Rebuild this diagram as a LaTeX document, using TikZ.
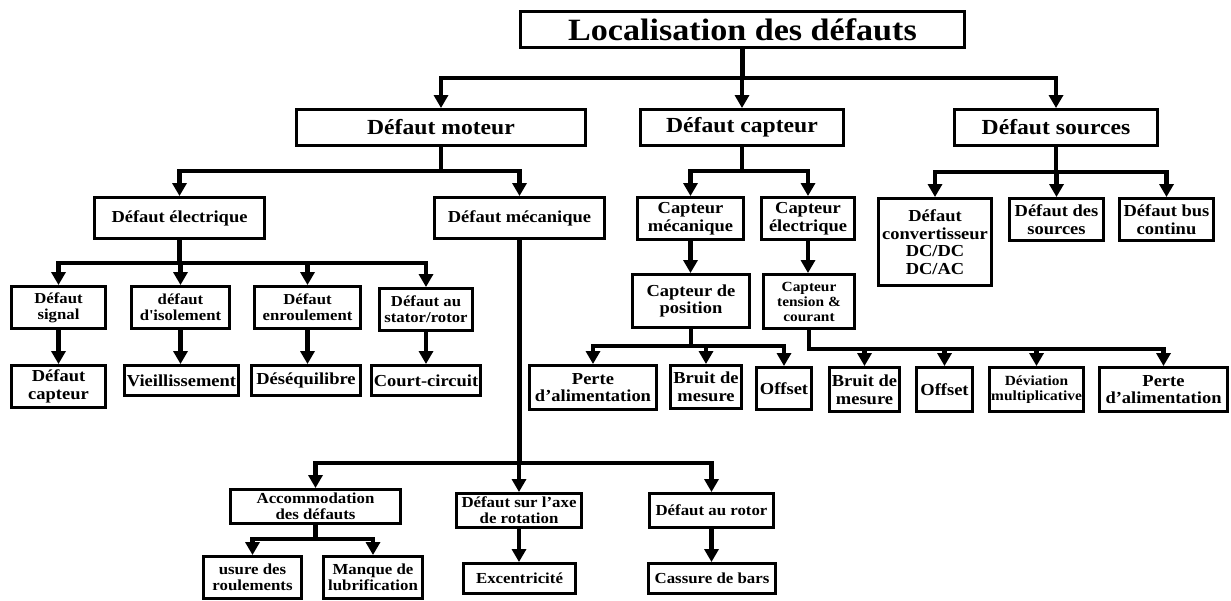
\documentclass[tikz,border=0pt]{standalone}
\usepackage{fontspec}
\setmainfont{Liberation Serif}[FakeStretch=1.1]
\usetikzlibrary{arrows.meta}
\newcommand{\fsz}[2]{\fontsize{#1}{#2}\selectfont}
\begin{document}
\begin{tikzpicture}[x=1pt,y=-1pt,
  box/.style={draw, line width=2.9pt, inner sep=0pt, align=center},
  ft/.style={font=\bfseries\fsz{31}{34}},
  ftwo/.style={font=\bfseries\fsz{21.5}{23.5}},
  fthree/.style={font=\bfseries\fsz{16.8}{17.6}},
  ffour/.style={font=\bfseries\fsz{15.2}{15.8}},
  fsmall/.style={font=\bfseries\fsz{14}{15}},
  fbot/.style={font=\bfseries\fsz{15.3}{16.2}},
  conn/.style={line width=4.5pt, line join=miter, -{Triangle[width=14pt,length=13pt]}}]
\useasboundingbox (0,0) rectangle (1231,601);

% level 1
\node[box, ft, minimum width=444pt, minimum height=36pt] (title) at (742.5,29.5) {Localisation des défauts};
% level 2
\node[box, ftwo, minimum width=289pt, minimum height=36pt] (moteur) at (441,127.5) {Défaut moteur};
\node[box, ftwo, minimum width=203pt, minimum height=36pt] (capteur) at (742,127.5) {Défaut capteur};
\node[box, ftwo, minimum width=203pt, minimum height=36pt] (sources) at (1056,127.5) {Défaut sources};
% level 3
\node[box, fthree, minimum width=170pt, minimum height=41pt] (elec) at (179.5,218) {Défaut électrique};
\node[box, fthree, minimum width=170pt, minimum height=41pt] (meca) at (519.5,218) {Défaut mécanique};
\node[box, fthree, minimum width=106pt, minimum height=42pt] (capmeca) at (690.5,218.5) {Capteur\\mécanique};
\node[box, fthree, minimum width=93pt, minimum height=42pt] (capelec) at (808,218.5) {Capteur\\électrique};
\node[box, fthree, minimum width=113pt, minimum height=87pt] (conv) at (935,242) {Défaut\\convertisseur\\DC/DC\\DC/AC};
\node[box, fthree, minimum width=94pt, minimum height=42pt] (dsrc) at (1056.5,219.5) {Défaut des\\sources};
\node[box, fthree, minimum width=94pt, minimum height=42pt] (bus) at (1166.5,219.5) {Défaut bus\\continu};
% electrical faults
\node[box, ffour, minimum width=94pt, minimum height=42pt] (signal) at (58.5,307.5) {Défaut\\signal};
\node[box, ffour, minimum width=98pt, minimum height=42pt] (isol) at (180.5,307.5) {défaut\\d\textquotesingle isolement};
\node[box, ffour, minimum width=106pt, minimum height=42pt] (enroul) at (307.5,307.5) {Défaut\\enroulement};
\node[box, ffour, minimum width=93pt, minimum height=42pt] (stator) at (426,309.5) {Défaut au\\stator/rotor};
\node[box, fthree, minimum width=94pt, minimum height=42pt] (dcapt) at (58.5,386.5) {Défaut\\capteur};
\node[box, fthree, minimum width=114pt, minimum height=30pt] (vieil) at (181.5,380.5) {Vieillissement};
\node[box, fthree, minimum width=109pt, minimum height=30pt] (deseq) at (306,380.5) {Déséquilibre};
\node[box, fthree, minimum width=109pt, minimum height=30pt] (court) at (426,380.5) {Court-circuit};
% sensors
\node[box, fthree, minimum width=117pt, minimum height=53pt] (pos) at (691,301) {Capteur de\\position};
\node[box, fsmall, minimum width=91pt, minimum height=54pt] (tens) at (809,301.5) {Capteur\\tension \&\\courant};
\node[box, fthree, minimum width=127pt, minimum height=44pt] (perteA) at (593,387.5) {Perte\\d’alimentation};
\node[box, fthree, minimum width=71pt, minimum height=43pt] (bruitA) at (706,387) {Bruit de\\mesure};
\node[box, fthree, minimum width=55pt, minimum height=42pt] (offA) at (784,388.5) {Offset};
\node[box, fthree, minimum width=70pt, minimum height=44pt] (bruitB) at (864.5,389.5) {Bruit de\\mesure};
\node[box, fthree, minimum width=56pt, minimum height=44pt] (offB) at (944.5,389.5) {Offset};
\node[box, fsmall, minimum width=94pt, minimum height=44pt] (devi) at (1036.5,389.5) {Déviation\\multiplicative};
\node[box, fthree, minimum width=128pt, minimum height=44pt] (perteB) at (1163.5,389.5) {Perte\\d’alimentation};
% mechanical faults
\node[box, fbot, minimum width=170pt, minimum height=34pt] (accom) at (315.5,506.5) {Accommodation\\des défauts};
\node[box, fbot, minimum width=125pt, minimum height=34pt] (axe) at (519,510.5) {Défaut sur l’axe\\de rotation};
\node[box, fbot, minimum width=124pt, minimum height=34pt] (rotor) at (711.5,510.5) {Défaut au rotor};
\node[box, fbot, minimum width=98pt, minimum height=42pt] (usure) at (252.5,577.5) {usure des\\roulements};
\node[box, fbot, minimum width=99pt, minimum height=42pt] (manque) at (373,577.5) {Manque de\\lubrification};
\node[box, fbot, minimum width=112pt, minimum height=30pt] (excen) at (519.5,578.5) {Excentricité};
\node[box, fbot, minimum width=127pt, minimum height=30pt] (cassure) at (712,578.5) {Cassure de bars};

% bus junctions
\coordinate (b0) at (742.5,78);
\coordinate (b1) at (441,171);
\coordinate (b2) at (742,171);
\coordinate (b3) at (1056,172);
\coordinate (b4) at (179.5,263);
\coordinate (b5) at (691,346);
\coordinate (b6) at (809,349);
\coordinate (b7) at (519.5,463);
\coordinate (b8) at (315.5,539);

% connectors
\foreach \c in {moteur,capteur,sources} \draw[conn] (title.south) -- (b0) -| (\c.north);
\foreach \c in {elec,meca} \draw[conn] (moteur.south) -- (b1) -| (\c.north);
\foreach \c in {capmeca,capelec} \draw[conn] (capteur.south) -- (b2) -| (\c.north);
\foreach \c in {conv,dsrc,bus} \draw[conn] (sources.south) -- (b3) -| (\c.north);
\foreach \c in {signal,isol,enroul,stator} \draw[conn] (elec.south) -- (b4) -| (\c.north);
\draw[conn] (signal.south) -- (signal.south |- dcapt.north);
\draw[conn] (isol.south) -- (isol.south |- vieil.north);
\draw[conn] (enroul.south) -- (enroul.south |- deseq.north);
\draw[conn] (stator.south) -- (stator.south |- court.north);
\draw[conn] (capmeca.south) -- (capmeca.south |- pos.north);
\draw[conn] (capelec.south) -- (capelec.south |- tens.north);
\foreach \c in {perteA,bruitA,offA} \draw[conn] (pos.south) -- (b5) -| (\c.north);
\foreach \c in {bruitB,offB,devi,perteB} \draw[conn] (tens.south) -- (b6) -| (\c.north);
\foreach \c in {accom,axe,rotor} \draw[conn] (meca.south) -- (b7) -| (\c.north);
\foreach \c in {usure,manque} \draw[conn] (accom.south) -- (b8) -| (\c.north);
\draw[conn] (axe.south) -- (axe.south |- excen.north);
\draw[conn] (rotor.south) -- (rotor.south |- cassure.north);
\end{tikzpicture}
\end{document}
